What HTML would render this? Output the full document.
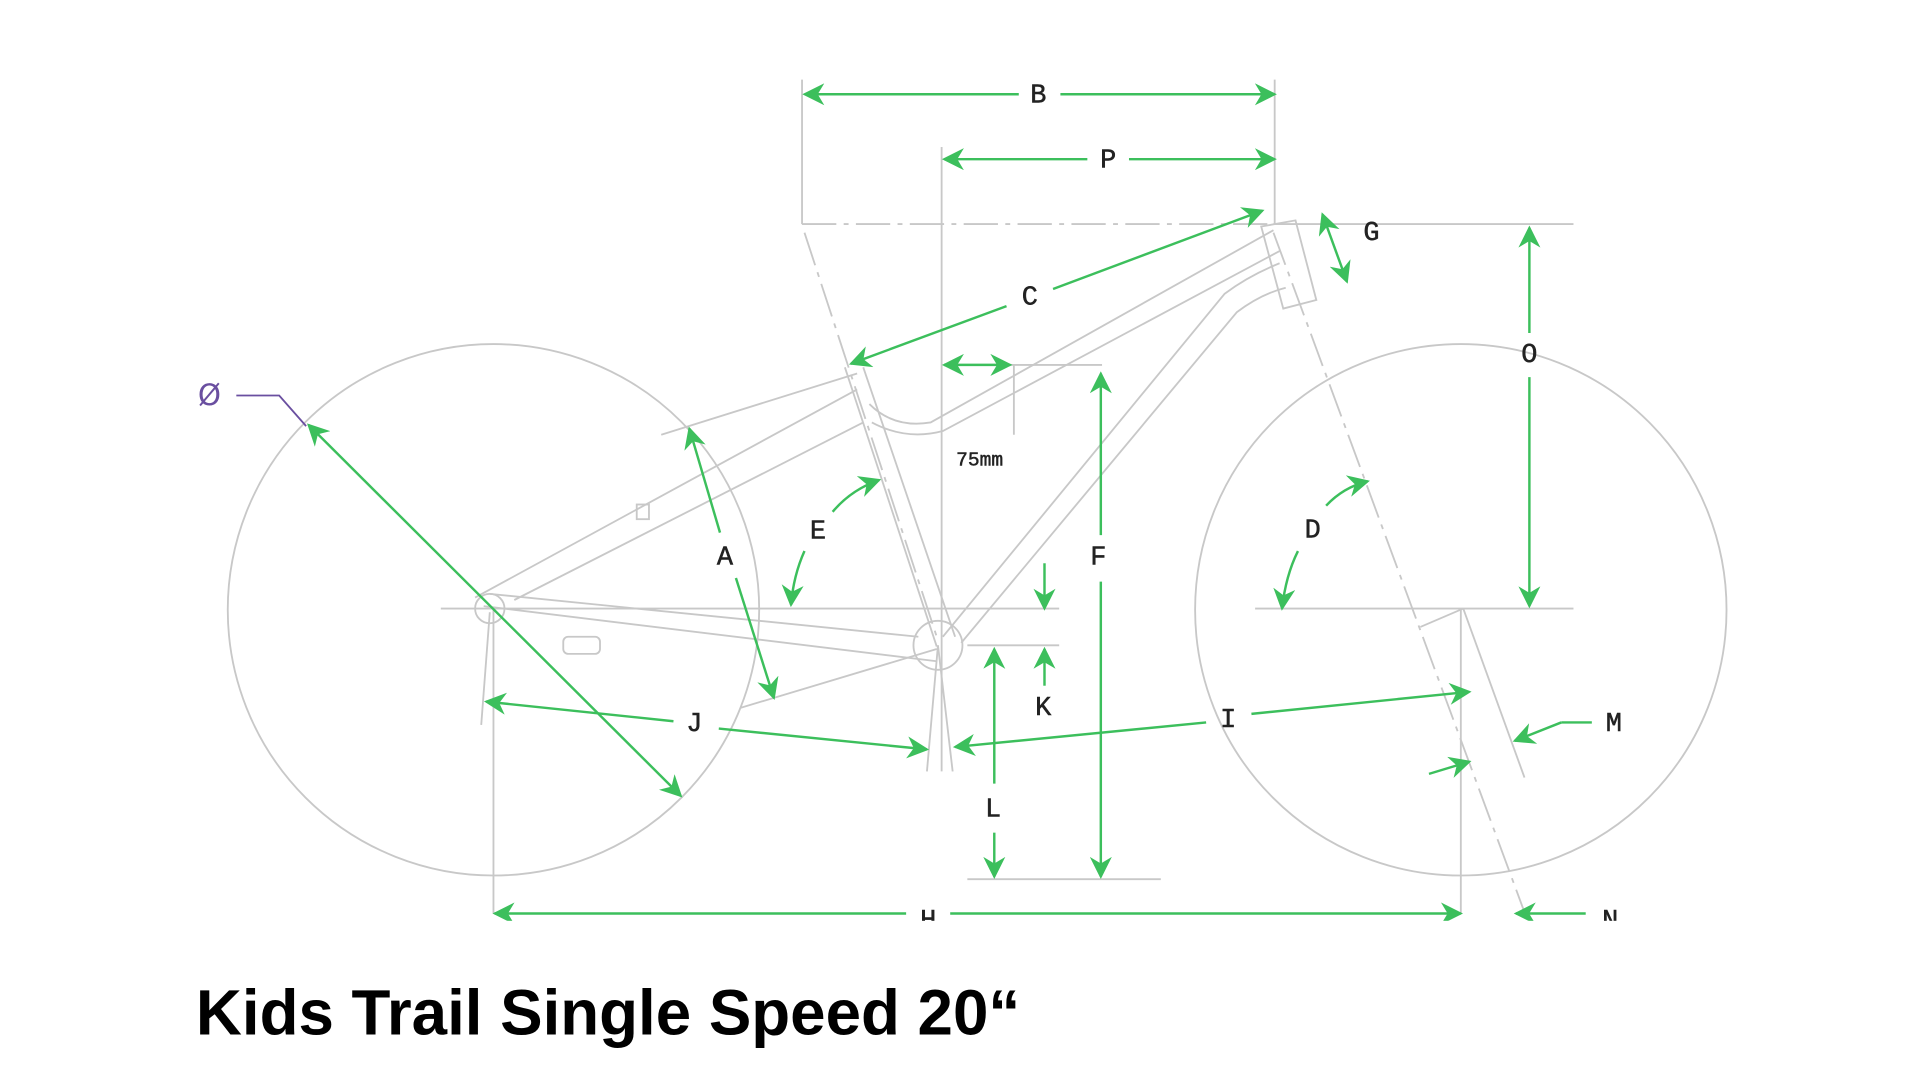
<!DOCTYPE html>
<html><head><meta charset="utf-8"><style>
html,body{margin:0;padding:0;background:#fff;width:1920px;height:1080px;overflow:hidden}
svg{display:block}
.g{stroke:#3cbf5c;stroke-width:2;fill:none}
.l{stroke:#c8c8c8;stroke-width:1.5;fill:none}
.t{font-family:"Liberation Mono",monospace;font-size:22px;fill:#222;text-anchor:middle;dominant-baseline:middle;stroke:#222;stroke-width:0.4}
</style></head><body>
<svg width="1920" height="1080" viewBox="0 0 1568 882" xmlns="http://www.w3.org/2000/svg">
<defs>
<marker id="a" viewBox="0 0 10 10" refX="9" refY="5" markerWidth="9" markerHeight="9" orient="auto-start-reverse"><path d="M0,0 L10,5 L0,10 L3,5 z" fill="#3cbf5c"/></marker>
</defs>
<circle cx="403" cy="498" r="217" class="l"/>
<circle cx="1193" cy="498" r="217" class="l"/>
<line x1="360" y1="497" x2="865" y2="497" class="l" stroke-width="2.5"/>
<line x1="1025" y1="497" x2="1285" y2="497" class="l" stroke-width="2.5"/>
<line x1="790" y1="527" x2="865" y2="527" class="l"/>
<line x1="655" y1="183" x2="1040" y2="183" class="l" stroke-dasharray="28,6,4,6"/>
<line x1="1040" y1="183" x2="1285" y2="183" class="l"/>
<line x1="655" y1="65" x2="655" y2="183" class="l"/>
<line x1="1041" y1="65" x2="1041" y2="183" class="l"/>
<line x1="769" y1="120" x2="769" y2="630" class="l"/>
<line x1="657" y1="190" x2="765" y2="520" class="l" stroke-dasharray="28,6,4,6"/>
<line x1="1040" y1="190" x2="1245" y2="745" class="l" stroke-dasharray="28,6,4,6"/>
<line x1="790" y1="718" x2="948" y2="718" class="l"/>
<line x1="403" y1="497" x2="403" y2="746" class="l"/>
<line x1="1193" y1="497" x2="1193" y2="746" class="l"/>
<line x1="400" y1="500" x2="393" y2="592" class="l"/>
<line x1="1195" y1="497" x2="1245" y2="635" class="l"/>
<line x1="1195" y1="497" x2="1160" y2="512" class="l"/>
<line x1="766" y1="527" x2="757" y2="630" class="l"/>
<line x1="766" y1="527" x2="778" y2="630" class="l"/>
<line x1="540" y1="355" x2="700" y2="305" class="l"/>
<line x1="605" y1="578" x2="765" y2="530" class="l"/>
<line x1="825" y1="298" x2="900" y2="298" class="l"/>
<line x1="828" y1="298" x2="828" y2="355" class="l"/>
<path d="M690,300 L765,528 M705,300 L780,520" class="l"/>
<path d="M710,330 Q730,350 760,345 L1040,188 M712,345 Q740,360 770,352 L1045,205" class="l"/>
<path d="M770,520 L1000,240 Q1020,225 1045,215 M785,525 L1010,255 Q1030,240 1050,235" class="l"/>
<path d="M1030,185 L1058,180 L1075,245 L1048,252 z" class="l"/>
<path d="M395,495 L765,540 M400,485 L750,520" class="l"/>
<path d="M388,488 L700,318 M420,490 L705,345" class="l"/>
<circle cx="766" cy="527" r="20" class="l"/>
<circle cx="400" cy="497" r="12" class="l"/>
<rect x="460" y="520" width="30" height="14" rx="4" class="l"/>
<rect x="520" y="412" width="10" height="12" class="l"/>
<line x1="657" y1="77" x2="832" y2="77" class="g" marker-start="url(#a)"/>
<line x1="866" y1="77" x2="1041" y2="77" class="g" marker-end="url(#a)"/>
<text x="848" y="78" class="t">B</text>
<line x1="771" y1="130" x2="888" y2="130" class="g" marker-start="url(#a)"/>
<line x1="922" y1="130" x2="1041" y2="130" class="g" marker-end="url(#a)"/>
<text x="905" y="131" class="t">P</text>
<line x1="695" y1="297" x2="822" y2="250" class="g" marker-start="url(#a)"/>
<line x1="860" y1="236" x2="1031" y2="172" class="g" marker-end="url(#a)"/>
<text x="841" y="243" class="t">C</text>
<line x1="1080" y1="175" x2="1100" y2="230" class="g" marker-start="url(#a)" marker-end="url(#a)"/>
<text x="1120" y="190" class="t">G</text>
<line x1="1249" y1="186" x2="1249" y2="272" class="g" marker-start="url(#a)"/>
<line x1="1249" y1="308" x2="1249" y2="495" class="g" marker-end="url(#a)"/>
<text x="1249" y="290" class="t">O</text>
<line x1="899" y1="305" x2="899" y2="437" class="g" marker-start="url(#a)"/>
<line x1="899" y1="475" x2="899" y2="716" class="g" marker-end="url(#a)"/>
<text x="897" y="455" class="t">F</text>
<line x1="771" y1="298" x2="825" y2="298" class="g" marker-start="url(#a)" marker-end="url(#a)"/>
<text x="800" y="376" class="t" style="font-size:16px">75mm</text>
<line x1="853" y1="460" x2="853" y2="497" class="g" marker-end="url(#a)"/>
<line x1="853" y1="560" x2="853" y2="530" class="g" marker-end="url(#a)"/>
<text x="852" y="578" class="t">K</text>
<line x1="812" y1="640" x2="812" y2="530" class="g" marker-end="url(#a)"/>
<line x1="812" y1="680" x2="812" y2="716" class="g" marker-end="url(#a)"/>
<text x="811" y="661" class="t">L</text>
<line x1="588" y1="435" x2="563" y2="350" class="g" marker-end="url(#a)"/>
<line x1="601" y1="472" x2="632" y2="570" class="g" marker-end="url(#a)"/>
<text x="592" y="455" class="t">A</text>
<path d="M680,418 Q695,400 718,392" class="g" marker-end="url(#a)"/>
<path d="M657,450 Q648,470 646,494" class="g" marker-end="url(#a)"/>
<text x="668" y="434" class="t">E</text>
<path d="M1083,413 Q1097,398 1117,393" class="g" marker-end="url(#a)"/>
<path d="M1060,450 Q1050,470 1047,497" class="g" marker-end="url(#a)"/>
<text x="1072" y="433" class="t">D</text>
<line x1="550" y1="589" x2="397" y2="573" class="g" marker-end="url(#a)"/>
<line x1="587" y1="595" x2="757" y2="612" class="g" marker-end="url(#a)"/>
<text x="567" y="591" class="t">J</text>
<line x1="985" y1="590" x2="780" y2="610" class="g" marker-end="url(#a)"/>
<line x1="1022" y1="583" x2="1200" y2="565" class="g" marker-end="url(#a)"/>
<text x="1003" y="588" class="t">I</text>
<line x1="1300" y1="590" x2="1275" y2="590" class="g"/>
<line x1="1275" y1="590" x2="1237" y2="605" class="g" marker-end="url(#a)"/>
<text x="1318" y="591" class="t">M</text>
<line x1="1167" y1="632" x2="1200" y2="622" class="g" marker-end="url(#a)"/>
<line x1="252" y1="347" x2="556" y2="650" class="g" marker-start="url(#a)" marker-end="url(#a)"/>
<text x="171" y="324" class="t" style="fill:#6a4fa0;stroke:none;font-family:'DejaVu Sans',sans-serif;font-size:24px">Ø</text>
<polyline points="193,323 228,323 250,348" fill="none" stroke="#6a4fa0" stroke-width="1.5"/>
<line x1="404" y1="746" x2="740" y2="746" class="g" marker-start="url(#a)"/>
<line x1="776" y1="746" x2="1193" y2="746" class="g" marker-end="url(#a)"/>
<text x="758" y="752" class="t">H</text>
<line x1="1295" y1="746" x2="1238" y2="746" class="g" marker-end="url(#a)"/>
<text x="1315" y="752" class="t">N</text>
<rect x="0" y="752" width="1568" height="40" fill="#fff"/>
<text x="160" y="845" style="font-family:'Liberation Sans',sans-serif;font-weight:bold;font-size:52px;fill:#000">Kids Trail Single Speed 20“</text>
</svg>
</body></html>
